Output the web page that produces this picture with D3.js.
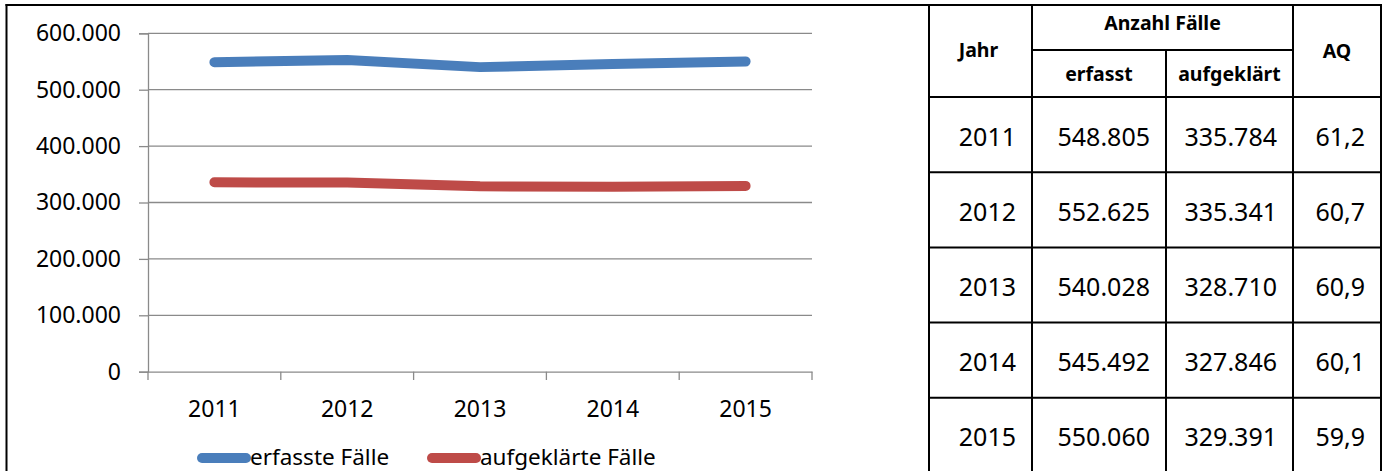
<!DOCTYPE html>
<html><head><meta charset="utf-8">
<script src="https://cdn.jsdelivr.net/npm/d3@7"></script>
<style>
html,body{margin:0;padding:0;background:#fff;}
svg{display:block;font-family:"Noto Sans",sans-serif;}
</style></head>
<body>
<svg id="c" width="1387" height="471"></svg>
<script>
const years = ["2011","2012","2013","2014","2015"];
const erfasst = [548805, 552625, 540028, 545492, 550060];
const aufgeklaert = [335784, 335341, 328710, 327846, 329391];
const aq = ["61,2","60,7","60,9","60,1","59,9"];
const yTicks = [0, 100000, 200000, 300000, 400000, 500000, 600000];
const seriesNames = ["erfasste Fälle", "aufgeklärte Fälle"];
const seriesColors = ["#4a7ebb", "#be4b48"];
const headerTop = "Anzahl Fälle";
const headerSub = ["erfasst", "aufgeklärt"];
const headerJahr = "Jahr";
const headerAQ = "AQ";

const de = d3.formatLocale({decimal:",", thousands:".", grouping:[3], currency:["","€"]});
const fmt = de.format(",d");

const svg = d3.select("#c");

// chart
const x = d3.scaleBand().domain(years).range([148, 812]);
const y = d3.scaleLinear().domain([0, 600000]).range([371.7, 33.3]);

// gridlines
svg.append("g").selectAll("line").data(yTicks.filter(d => d > 0)).join("line")
  .attr("x1", 148).attr("x2", 812)
  .attr("y1", d => y(d)).attr("y2", d => y(d))
  .attr("stroke", "#8a8a8a").attr("stroke-width", 1.3);

// y axis
const yAxis = svg.append("g").attr("transform", "translate(148,0)")
  .call(d3.axisLeft(y).tickValues(yTicks).tickFormat(d => d === 0 ? "0" : fmt(d)).tickSize(9).tickPadding(18));
yAxis.select(".domain").attr("stroke", "#8a8a8a").attr("stroke-width", 1.3);
yAxis.selectAll(".tick line").attr("stroke", "#8a8a8a").attr("stroke-width", 1.3);
yAxis.selectAll("text").attr("font-family", "Noto Sans").attr("font-size", 23).attr("fill", "#000");

// x axis
const xAxis = svg.append("g").attr("transform", "translate(0,371.7)")
  .call(d3.axisBottom(x).tickSize(0).tickPadding(0));
xAxis.select(".domain").attr("stroke", "#8a8a8a").attr("stroke-width", 1.3);
xAxis.selectAll(".tick text").attr("y", 45).attr("dy", 0).attr("font-family", "Noto Sans").attr("font-size", 23).attr("fill", "#000");
// category boundary ticks
const bounds = years.map(d => x(d)).concat([x.range()[1]]);
svg.append("g").selectAll("line").data(bounds).join("line")
  .attr("x1", d => d).attr("x2", d => d).attr("y1", 371.7).attr("y2", 380)
  .attr("stroke", "#8a8a8a").attr("stroke-width", 1.3);

// lines
const line = d3.line().x((d, i) => x(years[i]) + x.bandwidth() / 2).y(d => y(d));
[erfasst, aufgeklaert].forEach((s, k) => {
  svg.append("path").datum(s).attr("d", line)
    .attr("fill", "none").attr("stroke", seriesColors[k]).attr("stroke-width", 10)
    .attr("stroke-linecap", "round").attr("stroke-linejoin", "round");
});

// legend
const legX = [202, 432];
seriesNames.forEach((n, k) => {
  svg.append("line").attr("x1", legX[k]).attr("x2", legX[k] + 44).attr("y1", 458).attr("y2", 458)
    .attr("stroke", seriesColors[k]).attr("stroke-width", 10).attr("stroke-linecap", "round");
  svg.append("text").attr("x", legX[k] + 48).attr("y", 465).attr("font-size", 22.5).attr("fill", "#000").text(n);
});

// outer frame
svg.append("line").attr("x1", 6.5).attr("x2", 6.5).attr("y1", 4).attr("y2", 471).attr("stroke", "#000").attr("stroke-width", 2);
svg.append("line").attr("x1", 5.5).attr("x2", 1382).attr("y1", 5).attr("y2", 5).attr("stroke", "#000").attr("stroke-width", 2);

// table
const colX = [929, 1032, 1166, 1293, 1381];
const headSplit = 50, headBottom = 97, rowH = 75.2;
const rowTops = years.map((d, i) => headBottom + i * rowH);
const T = svg.append("g");
const L = (x1, y1, x2, y2) => T.append("line").attr("x1", x1).attr("y1", y1).attr("x2", x2).attr("y2", y2).attr("stroke", "#000").attr("stroke-width", 2);
// verticals
L(colX[0], 4, colX[0], 471);
L(colX[1], 4, colX[1], 471);
L(colX[2], headSplit, colX[2], 471);
L(colX[3], 4, colX[3], 471);
L(colX[4], 4, colX[4], 471);
L(colX[1], headSplit, colX[3], headSplit);
L(colX[0], headBottom, colX[4], headBottom);
rowTops.slice(1).forEach(t => L(colX[0], t, colX[4], t));

const bold = (tx, ty, s) => T.append("text").attr("x", tx).attr("y", ty).attr("text-anchor", "middle")
  .attr("font-weight", "bold").attr("font-size", 19.5).attr("fill", "#000").text(s);
bold((colX[0] + colX[1]) / 2 - 2, 57, headerJahr);
bold((colX[1] + colX[3]) / 2, 30, headerTop);
bold((colX[1] + colX[2]) / 2, 81, headerSub[0]);
bold((colX[2] + colX[3]) / 2, 81, headerSub[1]);
bold((colX[3] + colX[4]) / 2, 58, headerAQ);

years.forEach((yr, i) => {
  const by = rowTops[i] + 48.5;
  const cells = [yr, fmt(erfasst[i]), fmt(aufgeklaert[i]), aq[i]];
  cells.forEach((c, j) => {
    T.append("text").attr("x", colX[j + 1] - 16).attr("y", by).attr("text-anchor", "end")
      .attr("font-size", 25).attr("fill", "#000").text(c);
  });
});
</script>
</body></html>
